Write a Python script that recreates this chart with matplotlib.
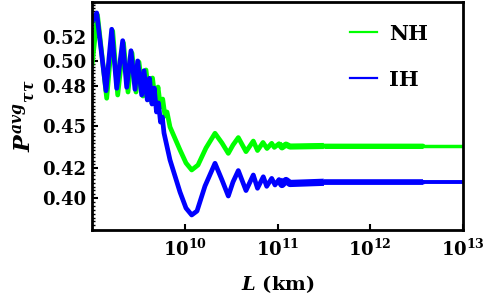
import numpy as np
import matplotlib
matplotlib.use("Agg")
import matplotlib.pyplot as plt
from matplotlib.lines import Line2D
from matplotlib.ticker import FixedLocator, NullLocator, FixedFormatter, NullFormatter

# ---------------- data ----------------
# log10 of baseline L (km) and averaged probability P_tautau
log10L_NH = [9.000, 9.0593, 9.1585, 9.2232, 9.2771, 9.3396, 9.3881, 9.4313, 9.4744, 9.5067,
             9.5499, 9.5822, 9.6199, 9.6523, 9.6846, 9.7116, 9.7385, 9.7623, 9.7871, 9.8086,
             9.8410, 9.9488, 10.0135, 10.0749, 10.1429, 10.2291, 10.3261, 10.4016, 10.4695, 10.5202,
             10.5774, 10.6604, 10.7391, 10.7844, 10.8437, 10.8868, 10.9375, 10.9655, 11.0162, 11.0485,
             11.0916, 11.1348, 11.5, 12.5687, 13.0]
P_NH = [0.4968, 0.5390, 0.4706, 0.5251, 0.4731, 0.5150, 0.4754, 0.5066, 0.4754, 0.4992,
        0.4723, 0.4928, 0.4693, 0.4864, 0.4677, 0.4793, 0.4639, 0.4700, 0.4572, 0.4602,
        0.4491, 0.4326, 0.4235, 0.4187, 0.4221, 0.4340, 0.4445, 0.4375, 0.4302, 0.4361,
        0.4414, 0.4314, 0.4389, 0.4322, 0.4379, 0.4336, 0.4373, 0.4344, 0.4370, 0.4344,
        0.4364, 0.4350, 0.4354, 0.4354, 0.4354]

log10L_IH = [9.000, 9.0507, 9.1509, 9.2124, 9.2663, 9.3310, 9.3741, 9.4205, 9.4636, 9.4927,
             9.5358, 9.5606, 9.5962, 9.6199, 9.6469, 9.6706, 9.6954, 9.7170, 9.7385, 9.7580,
             9.7763, 9.8410, 9.9488, 10.0135, 10.0749, 10.1321, 10.2183, 10.3261, 10.4016, 10.4695,
             10.5202, 10.5774, 10.6604, 10.7391, 10.7844, 10.8469, 10.8836, 10.9375, 10.9730, 11.0162,
             11.0485, 11.0916, 11.1348, 11.5, 12.5687, 13.0]
P_IH = [0.5329, 0.5408, 0.4764, 0.5266, 0.4783, 0.5169, 0.4791, 0.5085, 0.4775, 0.5001,
        0.4731, 0.4922, 0.4693, 0.4862, 0.4662, 0.4785, 0.4602, 0.4670, 0.4527, 0.4564,
        0.4447, 0.4256, 0.4039, 0.3935, 0.3891, 0.3916, 0.4079, 0.4233, 0.4119, 0.4013,
        0.4106, 0.4183, 0.4049, 0.4153, 0.4064, 0.4141, 0.4077, 0.4130, 0.4086, 0.4122,
        0.4089, 0.4116, 0.4096, 0.4104, 0.4104, 0.4104]

series_labels = ["NH", "IH"]
series_colors = ["#00ff00", "#0000ff"]

y_ticks = [0.40, 0.42, 0.45, 0.48, 0.50, 0.52]
y_ticklabels = ["0.40", "0.42", "0.45", "0.48", "0.50", "0.52"]
x_ticks = [1e10, 1e11, 1e12, 1e13]
x_ticklabels = [r"$10^{10}$", r"$10^{11}$", r"$10^{12}$", r"$10^{13}$"]

# ---------------- style ----------------
plt.rcParams.update({
    "font.family": ["DejaVu Serif"],
    "font.weight": "bold",
    "mathtext.fontset": "custom",
    "mathtext.rm": "DejaVu Serif:bold",
    "mathtext.it": "DejaVu Serif:bold:italic",
    "mathtext.bf": "DejaVu Serif:bold",
})

W, H = 488, 306
fig = plt.figure(figsize=(W / 100, H / 100), dpi=100)
ax = fig.add_axes([92 / W, 1 - 230 / H, (463 - 92) / W, (230 - 2) / H])

def draw(lx, p, color, lw_base, lw_fuzz1, lw_fuzz2, lw_tail):
    L = 10 ** np.asarray(lx)
    p = np.asarray(p)
    lxa = np.asarray(lx)
    m = lxa <= 12.5687 + 1e-9
    ax.plot(L[m], p[m], color=color, lw=lw_base, solid_joinstyle="round",
            solid_capstyle="round")
    m1 = (lxa >= 11.0) & (lxa <= 11.5 + 1e-9)
    ax.plot(L[m1], p[m1], color=color, lw=lw_fuzz1, solid_capstyle="butt")
    m2 = (lxa >= 11.5 - 1e-9) & (lxa <= 12.5687 + 1e-9)
    ax.plot(L[m2], p[m2], color=color, lw=lw_fuzz2, solid_capstyle="butt")
    m3 = lxa >= 12.5687 - 1e-9
    ax.plot(L[m3], p[m3], color=color, lw=lw_tail, solid_capstyle="butt")

draw(log10L_NH, P_NH, series_colors[0], 3.4, 4.4, 3.6, 2.5)
draw(log10L_IH, P_IH, series_colors[1], 3.4, 5.2, 4.0, 2.8)

ax.set_xscale("log")
ax.set_yscale("log")
ax.set_xlim(1e9, 1e13)
ax.set_ylim(0.3797, 0.5505)

ax.xaxis.set_major_locator(FixedLocator(x_ticks))
ax.xaxis.set_major_formatter(FixedFormatter(x_ticklabels))
ax.xaxis.set_minor_locator(NullLocator())
ax.yaxis.set_major_locator(FixedLocator(y_ticks))
ax.yaxis.set_major_formatter(FixedFormatter(y_ticklabels))
minor = [v for v in np.arange(0.38, 0.551, 0.0025) if min(abs(v - t) for t in y_ticks) > 1e-6]
ax.yaxis.set_minor_locator(FixedLocator(minor))
ax.yaxis.set_minor_formatter(NullFormatter())

ax.tick_params(axis="both", which="major", direction="in", length=4, width=1.5,
               labelsize=13, top=False, right=False)
ax.tick_params(axis="y", which="minor", direction="in", length=2, width=1.0,
               right=False)
ax.tick_params(axis="x", which="major", pad=6)
ax.tick_params(axis="y", which="major", pad=4)
for lab in ax.get_yticklabels() + ax.get_xticklabels():
    lab.set_fontweight("bold")

for s in ax.spines.values():
    s.set_linewidth(2.0)

ax.set_xlabel(r"$L$ (km)", fontsize=14, fontweight="bold", labelpad=10)
ax.set_ylabel(r"$P^{avg}{}_{\tau\tau}$", fontsize=16, labelpad=3)

handles = [Line2D([], [], color=c, lw=1.6) for c in series_colors]
ax.legend(handles, series_labels, loc="upper left", bbox_to_anchor=(0.695, 0.905),
          frameon=False, handlelength=1.3, handletextpad=0.6,
          labelspacing=1.25, borderpad=0, borderaxespad=0,
          prop={"weight": "bold", "size": 15})

fig.savefig("out.png", dpi=100)
